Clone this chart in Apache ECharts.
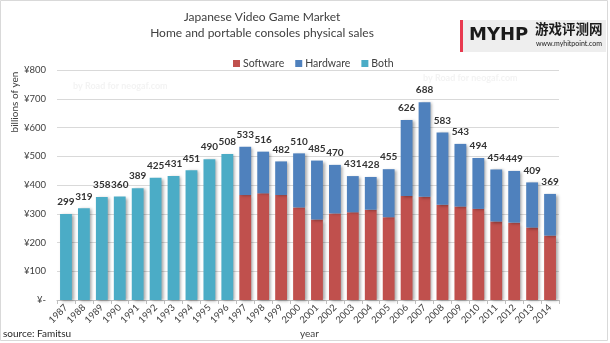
<!DOCTYPE html>
<html><head><meta charset="utf-8">
<script src="https://cdn.jsdelivr.net/npm/echarts@6/dist/echarts.min.js"></script>
<style>html,body{margin:0;padding:0;background:#fff}#c{width:610px;height:343px}</style>
</head><body><div id="c"></div>
<script>
const years = ['1987','1988','1989','1990','1991','1992','1993','1994','1995','1996','1997','1998','1999','2000','2001','2002','2003','2004','2005','2006','2007','2008','2009','2010','2011','2012','2013','2014'];
const both = [299,319,358,360,389,425,431,451,490,508,null,null,null,null,null,null,null,null,null,null,null,null,null,null,null,null,null,null];
const totals = [299,319,358,360,389,425,431,451,490,508,533,516,482,510,485,470,431,428,455,626,688,583,543,494,454,449,409,369];
const software = [null,null,null,null,null,null,null,null,null,null,365,371,365,322,280,301,305,314,288,362,359,331,325,317,273,269,252,224];
const hardware = software.map((s,i)=> s==null ? null : totals[i]-s);
const yTicks = [0,100,200,300,400,500,600,700,800];

const font = 'Lato, "Open Sans", sans-serif';
const chart = echarts.init(document.getElementById('c'), null, {renderer:'canvas'});
const shadow = {shadowBlur:3, shadowColor:'rgba(0,0,0,0.35)', shadowOffsetX:2, shadowOffsetY:1};
const lbl = {show:true, position:'top', distance:7, fontFamily:font, fontSize:10, fontWeight:'bold', color:'#333'};
chart.setOption({
  animation:false,
  grid:{left:57, right:51, top:70, bottom:43, containLabel:false},
  legend:{
    data:['Software','Hardware','Both'], left:228, top:53, itemWidth:7, itemHeight:7, itemGap:11,
    icon:'rect', textStyle:{fontFamily:font, fontSize:10.5, color:'#404040', padding:[0,0,0,-2]}
  },
  xAxis:{
    type:'category', data:years, boundaryGap:true,
    axisLine:{lineStyle:{color:'#bfbfbf'}},
    axisTick:{show:true, length:4, lineStyle:{color:'#bfbfbf'}},
    axisLabel:{rotate:45, fontFamily:font, fontSize:9.5, color:'#404040', margin:6, interval:0}
  },
  yAxis:{
    type:'value', min:yTicks[0], max:yTicks[yTicks.length-1], interval:100,
    axisLine:{show:false}, axisTick:{show:false},
    splitLine:{lineStyle:{color:'#d9d9d9'}},
    axisLabel:{fontFamily:font, fontSize:9.5, color:'#404040', margin:11,
      formatter:v=> v===0 ? '¥-' : '¥'+v}
  },
  series:[
    {name:'Software', type:'bar', stack:'a', data:software, barCategoryGap:'34%',
      itemStyle:Object.assign({color:'#C0504D'}, shadow)},
    {name:'Hardware', type:'bar', stack:'a', data:hardware,
      itemStyle:Object.assign({color:'#4F81BD'}, shadow),
      label:Object.assign({}, lbl, {formatter:p=>totals[p.dataIndex]})},
    {name:'Both', type:'bar', stack:'a', data:both,
      itemStyle:Object.assign({color:'#4BACC6'}, shadow),
      label:Object.assign({}, lbl, {formatter:p=>p.value})}
  ],
  graphic:[
    {type:'rect', shape:{x:0.5,y:0.5,width:607,height:340}, style:{fill:'none', stroke:'#d9d9d9', lineWidth:1}, silent:true},
    {type:'text', x:262, y:11, style:{text:'Japanese Video Game Market', fontFamily:font, fontSize:12, fill:'#404040', textAlign:'center'}},
    {type:'text', x:262, y:27, style:{text:'Home and portable consoles physical sales', fontFamily:font, fontSize:12, fill:'#404040', textAlign:'center'}},
    {type:'text', x:15, y:102, rotation:Math.PI/2, style:{text:'billions of yen', fontFamily:font, fontSize:10, fill:'#404040', textAlign:'center', textVerticalAlign:'middle'}},
    {type:'text', x:300, y:329, style:{text:'year', fontFamily:font, fontSize:10, fill:'#404040'}},
    {type:'text', x:3, y:329, style:{text:'source: Famitsu', fontFamily:font, fontSize:10, fill:'#262626'}},
    {type:'text', x:73, y:82, style:{text:'by Road for neogaf.com', fontFamily:font, fontSize:9, fontWeight:'bold', fill:'#f3f3f3'}},
    {type:'text', x:423, y:74, style:{text:'by Road for neogaf.com', fontFamily:font, fontSize:9, fontWeight:'bold', fill:'#f3f3f3'}},
    {type:'rect', shape:{x:463,y:20,width:143,height:32}, style:{fill:'#eeeeee'}},
    {type:'rect', shape:{x:460,y:20,width:3,height:32}, style:{fill:'#e8394f'}},
    {type:'text', x:469, y:26, style:{text:'MYHP', fontFamily:'"DejaVu Sans", sans-serif', fontSize:18, fontWeight:'bold', fill:'#1a1a1a'}},
    {type:'text', x:535, y:22, style:{text:'游戏评测网', fontFamily:'"Noto Sans CJK SC", sans-serif', fontSize:13.5, fontWeight:'bold', fill:'#1a1a1a'}},
    {type:'text', x:536, y:40, style:{text:'www.myhitpoint.com', fontFamily:font, fontSize:7, fill:'#1a1a1a'}}
  ]
});
</script></body></html>
